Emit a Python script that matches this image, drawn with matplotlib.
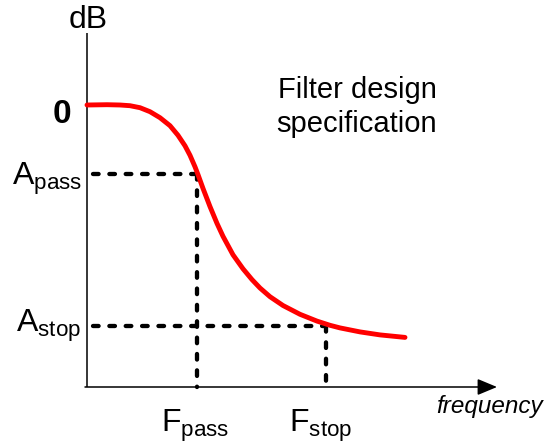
"""
Filter design specification sketch: magnitude response with pass/stop limits.
"""
import matplotlib
matplotlib.use("Agg")
import matplotlib.pyplot as plt

plt.rcParams["font.family"] = ["Liberation Sans", "DejaVu Sans"]
plt.rcParams["mathtext.fontset"] = "custom"
plt.rcParams["mathtext.rm"] = "Liberation Sans"
plt.rcParams["mathtext.it"] = "Liberation Sans:italic"
plt.rcParams["mathtext.bf"] = "Liberation Sans:bold"

# magnitude response (arbitrary units)
freq = [0, 20, 33, 43, 53, 63, 73, 83, 91, 98, 103, 108, 111, 116, 123, 130,
        136, 146, 156, 165, 173, 183, 196, 213, 230, 243, 253, 273, 293, 318]
mag_db = [0, 0.3, 0, -0.7, -2.7, -6.7, -12.7, -20.7, -30.3, -40.8, -50.3, -61.8,
          -69.6, -83.4, -101.6, -118.4, -131.3, -149.8, -163.8, -174.6, -183,
          -191.7, -200.5, -209.3, -216.1, -220.3, -222.9, -226.9, -229.9, -232.4]

# specification points
f_pass, a_pass = 110, -69
f_stop, a_stop = 239, -221

# axis extents
axis_bottom = -282
axis_top = 72
axis_right = 410

fig = plt.figure(figsize=(5.45, 4.46), dpi=100)
ax = fig.add_axes([0, 0, 1, 1])
ax.set_xlim(-87, 458)
ax.set_ylim(-341, 105)
ax.axis("off")

# axes with arrow
ax.plot([0, 0], [axis_bottom, axis_top], color="black", lw=1.1, solid_capstyle="butt")
ax.annotate("", xy=(axis_right, axis_bottom), xytext=(-2, axis_bottom),
            arrowprops=dict(arrowstyle="-|>,head_length=0.6,head_width=0.25",
                            mutation_scale=20, lw=1.1, color="black",
                            shrinkA=0, shrinkB=0))

# dashed spec lines
dash = dict(color="black", lw=3.1, linestyle=(0, (1.3, 2.5)), dash_capstyle="round")
ax.plot([6, f_pass], [a_pass, a_pass], **dash)
ax.plot([f_pass, f_pass], [a_pass, axis_bottom], **dash)
ax.plot([6, f_stop], [a_stop, a_stop], **dash)
ax.plot([f_stop, f_stop], [a_stop, axis_bottom + 4], **dash)

# response curve
ax.plot(freq, mag_db, color="#FF0000", lw=3.5, solid_capstyle="round",
        solid_joinstyle="round")

# labels
ax.text(1, 77, "dB", fontsize=23, ha="center", va="baseline")
ax.text(-25, -18, "0", fontsize=24, fontweight="bold", ha="center", va="baseline")
ax.text(-5, -80, r"$\mathrm{A}_{\mathrm{pass}}$", fontsize=23, ha="right", va="baseline")
ax.text(-6, -227, r"$\mathrm{A}_{\mathrm{stop}}$", fontsize=23, ha="right", va="baseline")
ax.text(f_pass - 2, -327, r"$\mathrm{F}_{\mathrm{pass}}$", fontsize=23, ha="center", va="baseline")
ax.text(f_stop - 5, -327, r"$\mathrm{F}_{\mathrm{stop}}$", fontsize=23, ha="center", va="baseline")
ax.text(349, -308, "frequency", fontsize=17.5, style="italic", ha="left", va="baseline")
ax.text(270, 7, "Filter design", fontsize=21, ha="center", va="baseline")
ax.text(270, -27, "specification", fontsize=21, ha="center", va="baseline")

fig.savefig("out.png", dpi=100)
